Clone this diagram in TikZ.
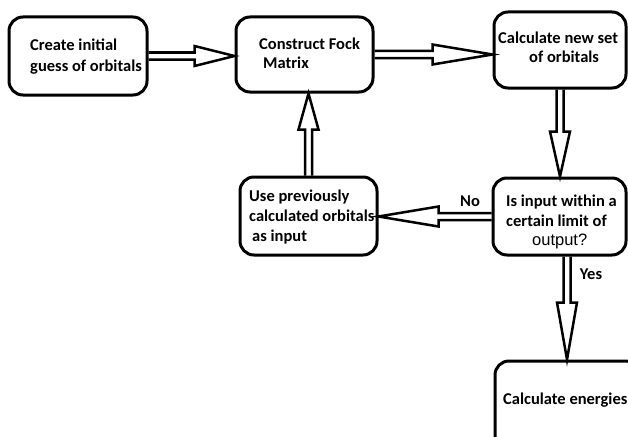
\documentclass[tikz,border=0pt]{standalone}
\usepackage{fontspec}
\setmainfont{Carlito}
\newfontfamily\arialfont{Liberation Sans}
\usetikzlibrary{calc}
\newcommand\hollowarrow[3]{%
  \coordinate (hA) at (#1); \coordinate (hB) at (#2);
  \coordinate (hH) at ($(hB)!#3!(hA)$);
  \draw[arr] ($(hA)!3.5pt!90:(hB)$) -- ($(hH)!3.5pt!-90:(hA)$) -- ($(hH)!10pt!-90:(hA)$)
    -- (hB) -- ($(hH)!10pt!90:(hA)$) -- ($(hH)!3.5pt!90:(hA)$) -- ($(hA)!3.5pt!-90:(hB)$);}
\begin{document}
\begin{tikzpicture}[x=1pt,y=-1pt,
  box/.style={draw, line width=3pt, rounded corners=14pt, inner sep=0pt},
  arr/.style={draw, line width=2.5pt, line join=miter},
  txt/.style={anchor=base west, inner sep=0pt, font=\bfseries\fontsize{16.5}{20}\selectfont},
  lbl/.style={anchor=base, inner sep=0pt, font=\bfseries\fontsize{16.5}{20}\selectfont}]
\useasboundingbox (0,0) rectangle (628,436);
\clip (0,0) rectangle (628,436);
\fill[white] (0,0) rectangle (628,436);
\node[box, minimum width=138pt, minimum height=78pt] (b1) at (78,56) {};
\node[box, minimum width=137pt, minimum height=75pt] (b2) at (304.5,54.5) {};
\node[box, minimum width=132pt, minimum height=76pt] (b3) at (560,50) {};
\node[box, minimum width=137pt, minimum height=78pt] (b4) at (308.5,216) {};
\node[box, minimum width=133pt, minimum height=77pt] (b5) at (559.5,216.5) {};
\node[box, minimum width=144pt, minimum height=89pt] (b6) at (567,405.5) {};
% texts
\node[txt] (t1a) at (30,51) {Create initial};
\node[txt] (t1b) at (30,71) {guess of orbitals};
\node[txt] (t2a) at (259,49) {Construct Fock};
\node[txt] (t2b) at (263,68) {Matrix};
\node[txt] (t3a) at (498,44) {Calculate new set};
\node[txt] (t3b) at (529,63) {of orbitals};
\node[txt] (t4a) at (249,201) {Use previously};
\node[txt] (t4b) at (249,221) {calculated orbitals};
\node[txt] (t4c) at (252,241) {as input};
\node[txt] (t5a) at (506,206) {Is input within a};
\node[txt] (t5b) at (506,226) {certain limit of};
\node[anchor=base west, inner sep=0pt, font=\arialfont\fontsize{16.5}{20}\selectfont] (t5c) at (532,245) {output?};
\node[txt] (t6) at (503,404) {Calculate energies};
% arrows
\hollowarrow{b1.east}{b2.west |- b1.east}{40pt}
\hollowarrow{b2.east}{b3.west |- b2.east}{60pt}
\hollowarrow{b3.south}{b5.north -| b3.south}{45pt}
\hollowarrow{b5.west}{b4.east |- b5.west}{60pt}
\hollowarrow{b4.north}{b2.south -| b4.north}{36pt}
\hollowarrow{b6.north |- b5.south}{b6.north}{57pt}
% labels
\node[lbl] (no) at (470,206) {No};
\node[lbl] (yes) at (591,279) {Yes};
\end{tikzpicture}
\end{document}
